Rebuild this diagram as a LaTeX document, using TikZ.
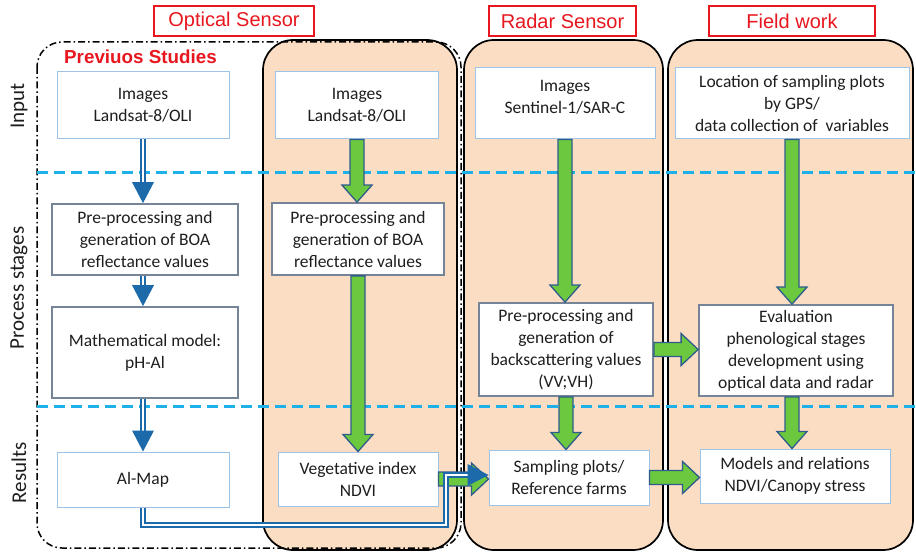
\documentclass[tikz,border=0pt]{standalone}
\usepackage{fontspec}
\setmainfont{Carlito}
\newfontfamily\hdrfont{Liberation Sans}
\usetikzlibrary{calc}
\definecolor{orfill}{RGB}{251,221,196}
\definecolor{gfill}{RGB}{108,200,62}
\definecolor{gedge}{RGB}{46,92,140}
\definecolor{bluec}{RGB}{28,106,170}
\definecolor{lbord}{RGB}{157,195,230}
\definecolor{gbord}{RGB}{118,132,152}
\definecolor{hred}{RGB}{232,22,30}
\definecolor{cyanl}{RGB}{30,176,232}
\definecolor{txt}{RGB}{30,30,30}
\tikzset{
  lbox/.style={draw=lbord, line width=1pt, fill=white, align=center, text=txt,
    font=\fontsize{17.5}{22}\selectfont, inner sep=2pt},
  gbox/.style={lbox, draw=gbord, line width=1.8pt},
  txtonly/.style={align=center, text=txt, font=\fontsize{17.5}{22}\selectfont, inner sep=0pt},
  col/.style={draw=black, line width=1.7pt, fill=orfill, rounded corners=30pt},
  hdr/.style={draw=hred, line width=1.6pt, text=hred, font=\hdrfont\fontsize{20}{22}\selectfont, minimum height=30pt, inner sep=0pt},
  sidelbl/.style={rotate=90, text=txt, font=\fontsize{21}{24}\selectfont},
  garrow/.style={fill=gfill, draw=gedge, line width=1.3pt, line join=miter},
  bluedbl/.style={draw=bluec, double=white, line width=2pt, double distance=2.8pt},
  divline/.style={draw=cyanl, line width=3pt, dash pattern=on 11pt off 6pt},
}
\newcommand{\GDown}[2]{\path[garrow] let \p1=#1, \p2=#2 in (\x1-7pt,\y1) -- (\x1-7pt,\y2+17pt) -- (\x1-15pt,\y2+17pt) -- (\x1,\y2) -- (\x1+15pt,\y2+17pt) -- (\x1+7pt,\y2+17pt) -- (\x1+7pt,\y1) -- cycle;}
\newcommand{\GRight}[2]{\path[garrow] let \p1=#1, \p2=#2 in (\x1,\y1+7pt) -- (\x2-17pt,\y1+7pt) -- (\x2-17pt,\y1+16pt) -- (\x2,\y1) -- (\x2-17pt,\y1-16pt) -- (\x2-17pt,\y1-7pt) -- (\x1,\y1-7pt) -- cycle;}
\newcommand{\BDown}[2]{%
  \draw[bluedbl] let \p1=#1, \p2=#2 in (\x1,\y1) -- (\x1,\y2+19pt);
  \fill[bluec] let \p1=#1, \p2=#2 in (\x1-11pt,\y2+21pt) -- (\x1,\y2) -- (\x1+11pt,\y2+21pt) -- cycle;}
\begin{document}
\begin{tikzpicture}[x=1pt,y=-1pt]
\useasboundingbox (0,0) rectangle (916,553);
\fill[white] (0,0) rectangle (916,553);
% columns
\path[col] (263,40) rectangle (457,550);
\path[col] (464,40) rectangle (663,550);
\path[col] (668,40) rectangle (913,550);
% previous studies frame
\draw[line width=1.5pt, dash pattern=on 7pt off 3pt on 1.5pt off 3pt, rounded corners=25pt] (37,42) rectangle (461,548);
% dividers
\coordinate (d1a) at (37,173); \coordinate (d1b) at (916,173);
\coordinate (d2a) at (37,406); \coordinate (d2b) at (916,406);
\draw[divline] (d1a) -- (d1b);
\draw[divline] (d2a) -- (d2b);
% headers
\node[hdr, minimum width=160pt] (hopt) at (234,21) {Optical Sensor};
\node[hdr, minimum width=147pt] (hrad) at (562.5,21) {Radar Sensor};
\node[hdr, minimum width=166pt] (hfld) at (792,21) {Field work};
\node[anchor=west, text=hred, font=\hdrfont\bfseries\fontsize{18.8}{20}\selectfont, inner sep=0pt] (prev) at (64,57) {Previuos Studies};
% side labels
\node[sidelbl] (lin) at (19,106) {Input};
\node[sidelbl] (lps) at (19,288) {Process stages};
\node[sidelbl] (lre) at (19,473) {Results};
% boxes
\node[lbox, minimum width=172pt, minimum height=67pt] (psimg) at (143,105.5) {Images\\Landsat-8/OLI};
\node[gbox, minimum width=186pt, minimum height=71pt] (pspre) at (145,239.5) {Pre-processing and\\generation of BOA\\reflectance values};
\node[gbox, minimum width=186pt, minimum height=91pt] (psmath) at (145,352.5) {Mathematical model:\\pH-Al};
\node[lbox, minimum width=172pt, minimum height=55pt] (almap) at (143,479.5) {Al-Map};
\node[lbox, minimum width=163pt, minimum height=67pt] (opimg) at (357,105.5) {Images\\Landsat-8/OLI};
\node[gbox, minimum width=172pt, minimum height=72pt] (oppre) at (358,239) {Pre-processing and\\generation of BOA\\reflectance values};
\node[lbox, minimum width=160pt, minimum height=54pt] (ndvi) at (358,479) {Vegetative index\\NDVI};
\node[lbox, minimum width=180pt, minimum height=71pt] (raimg) at (565,103.5) {};
\node[txtonly] (raimgt) at (565,97.5) {Images\\Sentinel-1/SAR-C};
\node[lbox, minimum width=234pt, minimum height=71pt] (fdloc) at (792,103.5) {Location of sampling plots\\by GPS/\\data collection of\ \ variables};
\node[gbox, minimum width=174pt, minimum height=93pt] (rapre) at (566,349.5) {Pre-processing and\\generation of\\backscattering values\\(VV;VH)};
\node[gbox, minimum width=194pt, minimum height=91pt] (eval) at (796,350.5) {Evaluation\\phenological stages\\development using\\optical data and radar};
\node[lbox, minimum width=160pt, minimum height=55pt] (samp) at (569,477.5) {Sampling plots/\\Reference farms};
\node[lbox, minimum width=190pt, minimum height=54pt] (models) at (795,476) {Models and relations\\NDVI/Canopy stress};
% green arrows
\GDown{(opimg.south)}{(oppre.north)}
\GDown{(oppre.south)}{(ndvi.north)}
\GDown{(raimg.south)}{(rapre.north)}
\GDown{(rapre.south)}{(samp.north)}
\GDown{(fdloc.south)}{(eval.north)}
\GDown{(eval.south -| fdloc.south)}{(models.north)}
\GRight{(rapre.east)}{(eval.west)}
\GRight{(samp.east)}{(models.west)}
\GRight{(ndvi.east)}{(samp.west)}
% blue arrows
\BDown{(psimg.south)}{(pspre.north -| psimg.south)}
\BDown{(pspre.south -| psimg.south)}{(psmath.north -| psimg.south)}
\BDown{(psmath.south -| psimg.south)}{(almap.north -| psimg.south)}
\coordinate (turn) at (446,525);
\coordinate (rise) at (446,475);
\coordinate (bend) at (468,475);
\draw[bluedbl] (almap.south) |- (turn) -- (rise) -- (bend);
\fill[bluec] ($(samp.west |- bend)+(-21pt,-11pt)$) -- (samp.west |- bend) -- ($(samp.west |- bend)+(-21pt,11pt)$) -- cycle;
\end{tikzpicture}
\end{document}
